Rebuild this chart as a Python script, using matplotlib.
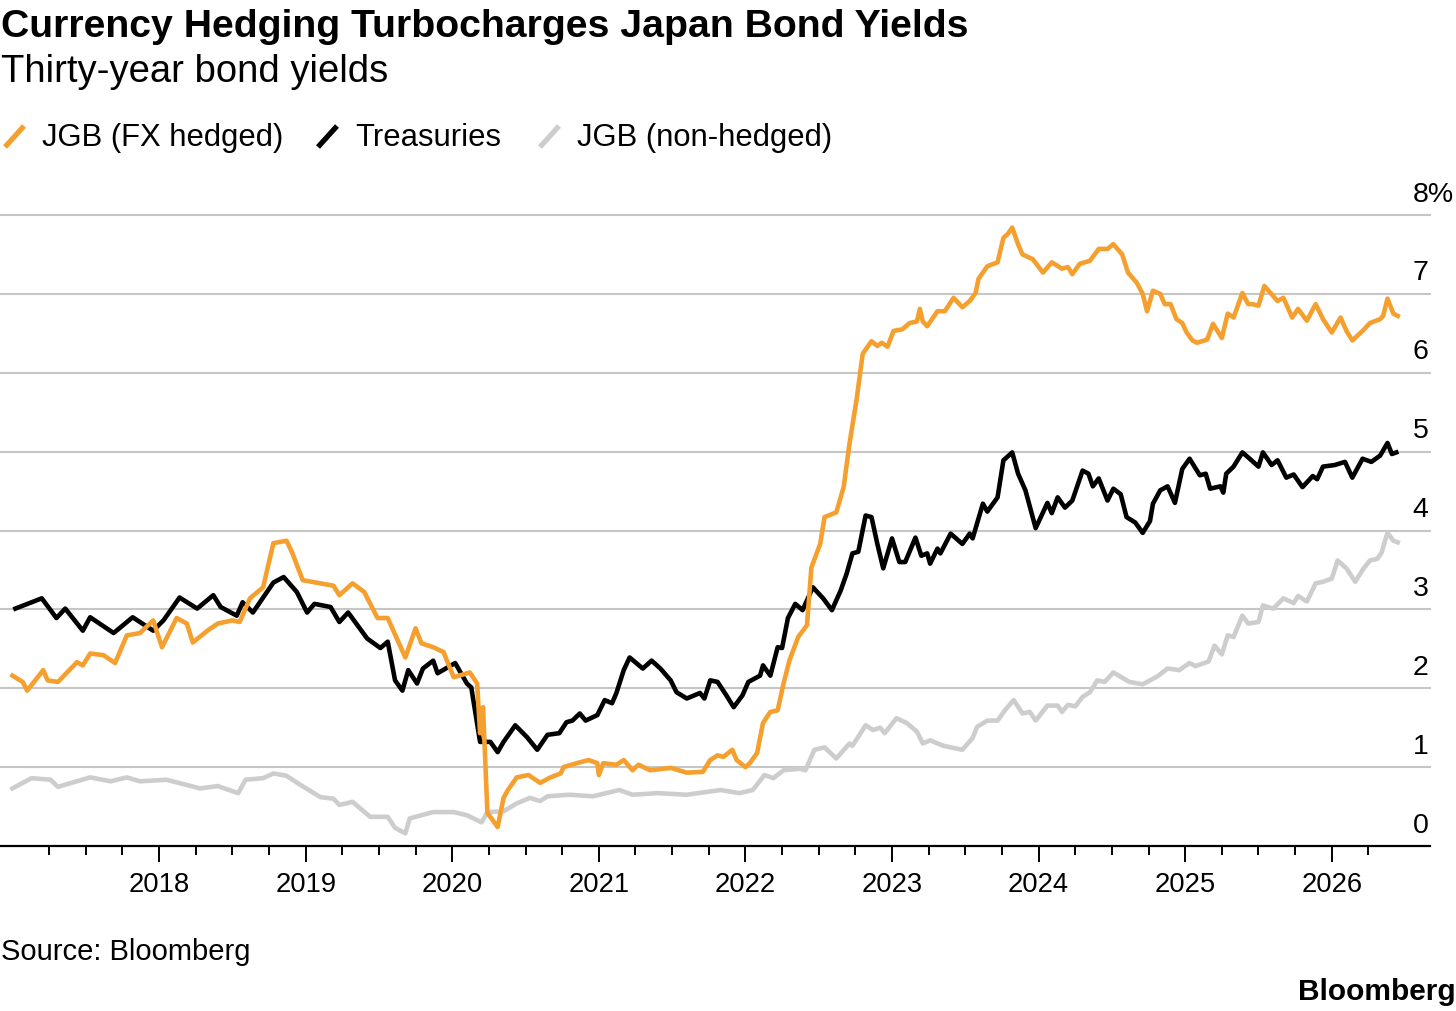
import matplotlib
matplotlib.use("Agg")
import matplotlib.pyplot as plt
import matplotlib.transforms as mtransforms
from matplotlib.lines import Line2D

plt.rcParams["font.family"] = ["Liberation Sans", "DejaVu Sans"]

# ---- data (decimal year, yield %) ----
hedged_x = [2017.00, 2017.07, 2017.10, 2017.21, 2017.24, 2017.31, 2017.44, 2017.48, 2017.53, 2017.62,
            2017.70, 2017.78, 2017.87, 2017.96, 2018.02, 2018.12, 2018.19, 2018.23, 2018.33, 2018.40,
            2018.50, 2018.55, 2018.62, 2018.71, 2018.78, 2018.87, 2018.91, 2018.98, 2019.19, 2019.23,
            2019.32, 2019.40, 2019.49, 2019.56, 2019.68, 2019.75, 2019.79, 2019.87, 2019.94, 2020.01,
            2020.12, 2020.17, 2020.19, 2020.21, 2020.24, 2020.31, 2020.35, 2020.38, 2020.44, 2020.52,
            2020.60, 2020.67, 2020.74, 2020.76, 2020.85, 2020.93, 2020.99, 2021.00, 2021.03, 2021.12,
            2021.17, 2021.23, 2021.27, 2021.35, 2021.49, 2021.60, 2021.71, 2021.76, 2021.81, 2021.85,
            2021.91, 2021.94, 2022.00, 2022.03, 2022.08, 2022.12, 2022.17, 2022.22, 2022.26, 2022.30,
            2022.36, 2022.42, 2022.45, 2022.51, 2022.54, 2022.62, 2022.67, 2022.71, 2022.76, 2022.80,
            2022.86, 2022.90, 2022.93, 2022.97, 2023.01, 2023.07, 2023.12, 2023.17, 2023.19, 2023.21,
            2023.24, 2023.31, 2023.36, 2023.42, 2023.48, 2023.53, 2023.57, 2023.59, 2023.65, 2023.72,
            2023.76, 2023.79, 2023.82, 2023.86, 2023.89, 2023.96, 2024.03, 2024.09, 2024.16, 2024.20,
            2024.23, 2024.28, 2024.35, 2024.41, 2024.47, 2024.51, 2024.57, 2024.61, 2024.67, 2024.71,
            2024.74, 2024.78, 2024.83, 2024.86, 2024.90, 2024.94, 2024.98, 2025.01, 2025.05, 2025.08,
            2025.15, 2025.19, 2025.25, 2025.29, 2025.33, 2025.39, 2025.43, 2025.46, 2025.50, 2025.54,
            2025.63, 2025.67, 2025.73, 2025.77, 2025.83, 2025.89, 2025.94, 2026.00, 2026.06, 2026.10,
            2026.14, 2026.21, 2026.26, 2026.33, 2026.35, 2026.38, 2026.42, 2026.45]
hedged_y = [2.16, 2.08, 1.97, 2.23, 2.10, 2.08, 2.33, 2.29, 2.44, 2.42,
            2.32, 2.67, 2.70, 2.86, 2.52, 2.89, 2.82, 2.58, 2.73, 2.82,
            2.86, 2.84, 3.14, 3.28, 3.84, 3.87, 3.71, 3.37, 3.30, 3.18,
            3.33, 3.22, 2.89, 2.89, 2.39, 2.76, 2.57, 2.52, 2.46, 2.14,
            2.20, 2.06, 1.43, 1.76, 0.42, 0.24, 0.61, 0.71, 0.87, 0.90,
            0.80, 0.87, 0.92, 1.00, 1.05, 1.09, 1.05, 0.90, 1.05, 1.03,
            1.09, 0.96, 1.03, 0.96, 0.99, 0.93, 0.94, 1.09, 1.15, 1.13,
            1.22, 1.09, 1.00, 1.05, 1.18, 1.56, 1.70, 1.72, 2.06, 2.35,
            2.65, 2.80, 3.53, 3.83, 4.17, 4.23, 4.55, 5.10, 5.68, 6.24,
            6.40, 6.34, 6.38, 6.33, 6.53, 6.55, 6.63, 6.65, 6.81, 6.65,
            6.59, 6.78, 6.78, 6.95, 6.83, 6.91, 7.01, 7.19, 7.35, 7.40,
            7.71, 7.76, 7.84, 7.63, 7.50, 7.44, 7.27, 7.40, 7.32, 7.34,
            7.25, 7.38, 7.42, 7.57, 7.57, 7.63, 7.50, 7.27, 7.14, 7.00,
            6.78, 7.04, 7.00, 6.87, 6.87, 6.68, 6.63, 6.51, 6.41, 6.38,
            6.42, 6.62, 6.44, 6.75, 6.70, 7.01, 6.87, 6.87, 6.85, 7.10,
            6.91, 6.95, 6.70, 6.81, 6.66, 6.87, 6.68, 6.51, 6.70, 6.53,
            6.41, 6.53, 6.63, 6.68, 6.72, 6.94, 6.75, 6.72]

treas_x = [2017.02, 2017.20, 2017.30, 2017.36, 2017.48, 2017.53, 2017.69, 2017.82, 2017.96, 2018.03,
           2018.14, 2018.26, 2018.37, 2018.42, 2018.53, 2018.57, 2018.64, 2018.78, 2018.85, 2018.94,
           2019.01, 2019.06, 2019.17, 2019.23, 2019.29, 2019.42, 2019.51, 2019.56, 2019.61, 2019.66,
           2019.70, 2019.76, 2019.80, 2019.87, 2019.90, 2020.02, 2020.10, 2020.13, 2020.19, 2020.26,
           2020.31, 2020.35, 2020.43, 2020.51, 2020.58, 2020.65, 2020.73, 2020.78, 2020.82, 2020.87,
           2020.91, 2020.99, 2021.04, 2021.09, 2021.12, 2021.17, 2021.21, 2021.30, 2021.36, 2021.42,
           2021.49, 2021.53, 2021.60, 2021.69, 2021.72, 2021.76, 2021.81, 2021.87, 2021.92, 2021.98,
           2022.02, 2022.10, 2022.12, 2022.17, 2022.22, 2022.25, 2022.29, 2022.34, 2022.39, 2022.46,
           2022.53, 2022.59, 2022.65, 2022.69, 2022.73, 2022.77, 2022.82, 2022.86, 2022.90, 2022.94,
           2023.00, 2023.05, 2023.09, 2023.16, 2023.20, 2023.24, 2023.26, 2023.31, 2023.33, 2023.40,
           2023.48, 2023.53, 2023.55, 2023.62, 2023.65, 2023.72, 2023.76, 2023.82, 2023.86, 2023.91,
           2023.98, 2024.06, 2024.09, 2024.13, 2024.18, 2024.23, 2024.30, 2024.34, 2024.37, 2024.41,
           2024.47, 2024.51, 2024.56, 2024.60, 2024.66, 2024.71, 2024.76, 2024.78, 2024.83, 2024.88,
           2024.93, 2024.98, 2025.03, 2025.10, 2025.14, 2025.17, 2025.24, 2025.26, 2025.28, 2025.33,
           2025.39, 2025.44, 2025.50, 2025.53, 2025.59, 2025.63, 2025.69, 2025.74, 2025.80, 2025.87,
           2025.90, 2025.94, 2026.02, 2026.09, 2026.14, 2026.21, 2026.27, 2026.33, 2026.38, 2026.41,
           2026.44]
treas_y = [3.01, 3.14, 2.89, 3.01, 2.73, 2.90, 2.70, 2.90, 2.73, 2.86,
           3.15, 3.01, 3.18, 3.03, 2.92, 3.09, 2.96, 3.34, 3.41, 3.22,
           2.96, 3.07, 3.03, 2.84, 2.96, 2.63, 2.51, 2.59, 2.10, 1.97,
           2.23, 2.06, 2.25, 2.35, 2.19, 2.32, 2.06, 2.01, 1.32, 1.32,
           1.19, 1.32, 1.53, 1.38, 1.22, 1.41, 1.43, 1.57, 1.59, 1.68,
           1.59, 1.66, 1.85, 1.81, 1.94, 2.23, 2.39, 2.25, 2.35, 2.25,
           2.10, 1.95, 1.87, 1.94, 1.87, 2.10, 2.08, 1.91, 1.76, 1.91,
           2.08, 2.16, 2.29, 2.16, 2.52, 2.51, 2.89, 3.07, 2.99, 3.28,
           3.14, 2.99, 3.24, 3.45, 3.71, 3.73, 4.19, 4.17, 3.83, 3.52,
           3.90, 3.60, 3.60, 3.91, 3.68, 3.71, 3.58, 3.77, 3.71, 3.96,
           3.83, 3.96, 3.90, 4.34, 4.24, 4.42, 4.89, 4.99, 4.72, 4.51,
           4.03, 4.35, 4.22, 4.42, 4.29, 4.38, 4.76, 4.72, 4.56, 4.66,
           4.38, 4.53, 4.46, 4.17, 4.10, 3.97, 4.12, 4.34, 4.51, 4.56,
           4.35, 4.78, 4.91, 4.70, 4.72, 4.53, 4.56, 4.48, 4.72, 4.81,
           4.99, 4.91, 4.81, 4.99, 4.83, 4.89, 4.67, 4.71, 4.55, 4.69,
           4.65, 4.81, 4.83, 4.87, 4.67, 4.91, 4.87, 4.95, 5.11, 4.97,
           4.99]

nonhedged_x = [2017.00, 2017.13, 2017.26, 2017.31, 2017.53, 2017.67, 2017.78, 2017.87, 2018.05, 2018.28,
               2018.40, 2018.54, 2018.59, 2018.71, 2018.78, 2018.87, 2018.96, 2019.10, 2019.19, 2019.23,
               2019.32, 2019.44, 2019.56, 2019.61, 2019.68, 2019.71, 2019.87, 2020.01, 2020.10, 2020.20,
               2020.24, 2020.35, 2020.44, 2020.53, 2020.60, 2020.65, 2020.80, 2020.96, 2021.14, 2021.23,
               2021.40, 2021.60, 2021.83, 2021.96, 2022.05, 2022.13, 2022.19, 2022.26, 2022.37, 2022.41,
               2022.47, 2022.54, 2022.62, 2022.71, 2022.73, 2022.82, 2022.87, 2022.92, 2022.95, 2023.03,
               2023.10, 2023.17, 2023.21, 2023.26, 2023.35, 2023.48, 2023.55, 2023.58, 2023.65, 2023.72,
               2023.77, 2023.83, 2023.89, 2023.94, 2023.98, 2024.06, 2024.13, 2024.16, 2024.20, 2024.25,
               2024.30, 2024.35, 2024.40, 2024.45, 2024.51, 2024.62, 2024.71, 2024.81, 2024.88, 2024.96,
               2025.03, 2025.07, 2025.16, 2025.20, 2025.25, 2025.29, 2025.33, 2025.39, 2025.43, 2025.50,
               2025.53, 2025.60, 2025.67, 2025.74, 2025.77, 2025.83, 2025.89, 2025.94, 2026.00, 2026.04,
               2026.10, 2026.16, 2026.21, 2026.26, 2026.31, 2026.34, 2026.36, 2026.38, 2026.42, 2026.45]
nonhedged_y = [0.73, 0.86, 0.84, 0.75, 0.87, 0.82, 0.87, 0.82, 0.84, 0.73,
               0.76, 0.67, 0.84, 0.86, 0.92, 0.89, 0.78, 0.62, 0.60, 0.52,
               0.56, 0.37, 0.37, 0.23, 0.16, 0.35, 0.43, 0.43, 0.39, 0.30,
               0.43, 0.44, 0.54, 0.61, 0.57, 0.63, 0.65, 0.63, 0.71, 0.65,
               0.67, 0.65, 0.71, 0.67, 0.71, 0.90, 0.86, 0.96, 0.98, 0.96,
               1.22, 1.25, 1.11, 1.30, 1.27, 1.53, 1.47, 1.50, 1.43, 1.62,
               1.56, 1.45, 1.30, 1.34, 1.27, 1.22, 1.37, 1.51, 1.59, 1.59,
               1.72, 1.85, 1.68, 1.70, 1.59, 1.78, 1.78, 1.70, 1.79, 1.77,
               1.89, 1.95, 2.10, 2.08, 2.20, 2.08, 2.05, 2.15, 2.25, 2.23,
               2.32, 2.28, 2.34, 2.54, 2.43, 2.67, 2.65, 2.92, 2.82, 2.84,
               3.05, 3.01, 3.14, 3.08, 3.17, 3.10, 3.33, 3.35, 3.39, 3.62,
               3.52, 3.35, 3.50, 3.62, 3.64, 3.72, 3.85, 3.97, 3.87, 3.85]

years = list(range(2018, 2027))
quarters = [y + q / 4 for y in range(2017, 2027) for q in (1, 2, 3) if y + q / 4 <= 2026.25]
y_levels = [0, 1, 2, 3, 4, 5, 6, 7, 8]
y_labels = ["0", "1", "2", "3", "4", "5", "6", "7", "8%"]

ORANGE = "#f5a02e"
BLACK = "#000000"
GREY = "#cdcdcd"
GRID = "#c6c6c6"

W, H = 1456, 1011
fig = plt.figure(figsize=(W / 100, H / 100), dpi=100)


def fy(py):
    return 1 - py / H


ax = fig.add_axes([0, fy(846), 1430 / W, (846 - 215) / H])

for v in y_levels[1:]:
    ax.axhline(v, color=GRID, lw=1.5, zorder=1, clip_on=False)

ax.plot(nonhedged_x, nonhedged_y, color=GREY, lw=3.3, zorder=3, solid_joinstyle="round")
ax.plot(treas_x, treas_y, color=BLACK, lw=3.3, zorder=4, solid_joinstyle="round")
ax.plot(hedged_x, hedged_y, color=ORANGE, lw=3.3, zorder=5, solid_joinstyle="round")

for s in ["top", "right", "left"]:
    ax.spines[s].set_visible(False)
ax.spines["bottom"].set_linewidth(1.6)
ax.spines["bottom"].set_zorder(6)

ax.set_xticks(years)
ax.set_xticklabels([str(y) for y in years])
ax.set_xticks(quarters, minor=True)
ax.tick_params(axis="x", which="major", length=11.5, width=1.4, pad=7, labelsize=19.7)
ax.tick_params(axis="x", which="minor", length=6.5, width=1.4)
ax.set_yticks([])
ax.set_xlim(2016.915, 2026.67)
ax.set_ylim(0, 8)

trans = mtransforms.blended_transform_factory(ax.transAxes, ax.transData)
for v, lab in zip(y_levels, y_labels):
    ax.text(0.988, v + 0.17, lab, transform=trans, ha="left", va="baseline",
            fontsize=20.5, clip_on=False)

# titles
fig.text(0.001, fy(37), "Currency Hedging Turbocharges Japan Bond Yields",
         fontsize=28.3, fontweight="bold", va="baseline")
fig.text(0.001, fy(82), "Thirty-year bond yields", fontsize=27.5, va="baseline")

# legend
legend_items = [(5, ORANGE, "JGB (FX hedged)"), (318, BLACK, "Treasuries"),
                (540, GREY, "JGB (non-hedged)")]
for x0, col, lab in legend_items:
    fig.add_artist(Line2D([x0 / W, (x0 + 19) / W], [fy(147), fy(126)],
                          color=col, lw=3.8, solid_capstyle="butt"))
    fig.text((x0 + 37) / W, fy(146), lab, fontsize=22.3, va="baseline")

fig.text(0.001, fy(960), "Source: Bloomberg", fontsize=21, va="baseline")
fig.text(1.0, fy(1000), "Bloomberg", fontsize=21.5, fontweight="bold",
         ha="right", va="baseline")

fig.savefig("out.png", dpi=100)
